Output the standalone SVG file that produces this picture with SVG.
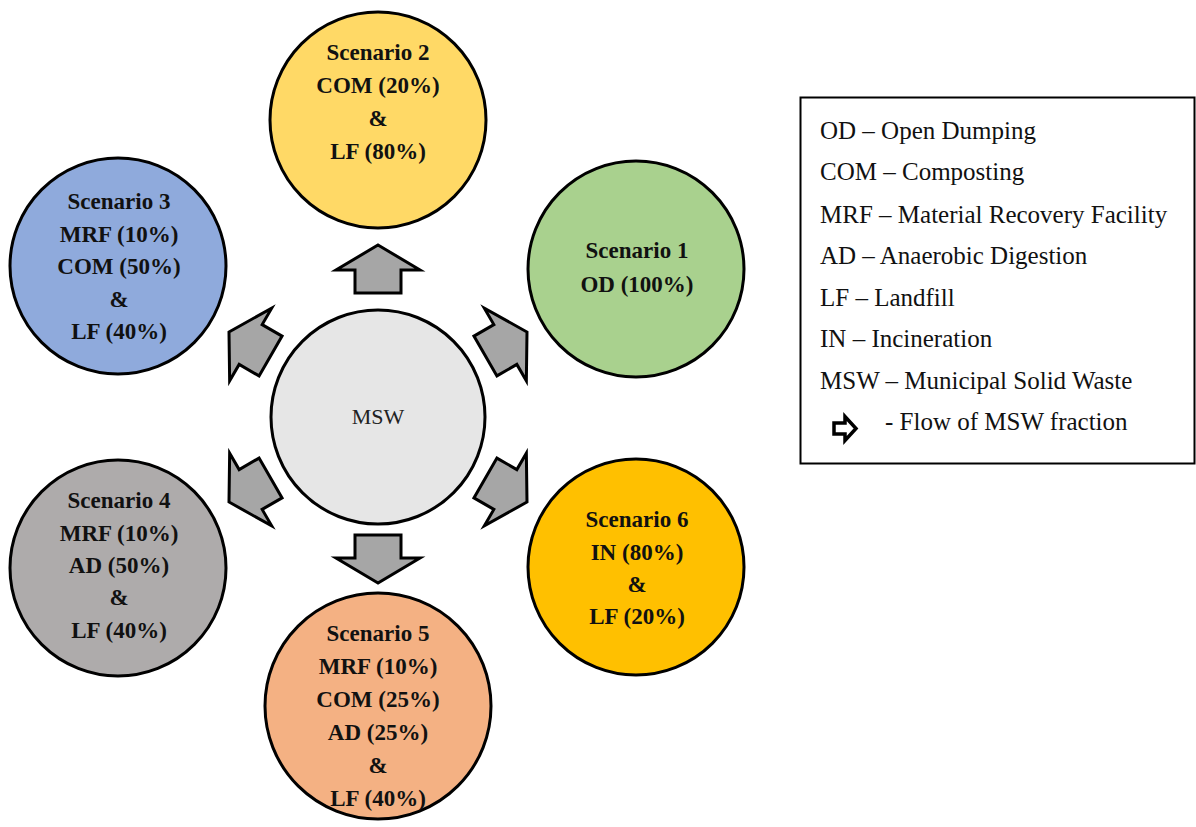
<svg xmlns="http://www.w3.org/2000/svg" width="1196" height="827" viewBox="0 0 1196 827">
<style>
.c{stroke:#000;stroke-width:3}
.t{font-family:"Liberation Serif","Times New Roman",serif;font-weight:bold;font-size:23px;text-anchor:middle;fill:#111}
.m{font-family:"Liberation Serif","Times New Roman",serif;font-size:22px;text-anchor:middle;fill:#222}
.l{font-family:"Liberation Serif","Times New Roman",serif;font-size:25px;fill:#111}
.a{fill:#a6a6a6;stroke:#000;stroke-width:3;stroke-linejoin:miter}
</style>
<defs>
<path id="arr" d="M0,0 L42,25 L23,25 L23,48 L-23,48 L-23,25 L-42,25 Z"/>
</defs>
<rect width="1196" height="827" fill="#fff"/>
<g id="connectors">
<use href="#arr" class="a" transform="translate(378,245)"/>
<use href="#arr" class="a" transform="translate(378,583) rotate(180)"/>
<use href="#arr" class="a" transform="translate(527,332) rotate(60)"/>
<use href="#arr" class="a" transform="translate(527,502) rotate(120)"/>
<use href="#arr" class="a" transform="translate(229,502) rotate(-120)"/>
<use href="#arr" class="a" transform="translate(229,332) rotate(-60)"/>
</g>
<g id="msw">
<circle class="c" cx="378" cy="417" r="107" fill="#e6e6e6"/>
<text class="m" x="378" y="424">MSW</text>
</g>
<g id="scenario2">
<circle class="c" cx="378" cy="120" r="108" fill="#ffd966"/>
<text class="t" x="378" y="60">Scenario 2</text>
<text class="t" x="378" y="93">COM (20%)</text>
<text class="t" x="378" y="126">&amp;</text>
<text class="t" x="378" y="159">LF (80%)</text>
</g>
<g id="scenario1">
<circle class="c" cx="636" cy="269" r="108" fill="#a9d18e"/>
<text class="t" x="637" y="258">Scenario 1</text>
<text class="t" x="637" y="292">OD (100%)</text>
</g>
<g id="scenario3">
<circle class="c" cx="118" cy="266" r="108" fill="#8faadc"/>
<text class="t" x="119" y="209">Scenario 3</text>
<text class="t" x="119" y="242">MRF (10%)</text>
<text class="t" x="119" y="274">COM (50%)</text>
<text class="t" x="119" y="307">&amp;</text>
<text class="t" x="119" y="339">LF (40%)</text>
</g>
<g id="scenario4">
<circle class="c" cx="118" cy="568" r="108" fill="#aeabab"/>
<text class="t" x="119" y="508">Scenario 4</text>
<text class="t" x="119" y="541">MRF (10%)</text>
<text class="t" x="119" y="573">AD (50%)</text>
<text class="t" x="119" y="605">&amp;</text>
<text class="t" x="119" y="638">LF (40%)</text>
</g>
<g id="scenario5">
<circle class="c" cx="378" cy="706" r="113" fill="#f4b183"/>
<text class="t" x="378" y="641">Scenario 5</text>
<text class="t" x="378" y="674">MRF (10%)</text>
<text class="t" x="378" y="707">COM (25%)</text>
<text class="t" x="378" y="740">AD (25%)</text>
<text class="t" x="378" y="773">&amp;</text>
<text class="t" x="378" y="806">LF (40%)</text>
</g>
<g id="scenario6">
<circle class="c" cx="636" cy="567" r="108" fill="#ffc000"/>
<text class="t" x="637" y="527">Scenario 6</text>
<text class="t" x="637" y="560">IN (80%)</text>
<text class="t" x="637" y="592">&amp;</text>
<text class="t" x="637" y="624">LF (20%)</text>
</g>
<g id="legend">
<rect x="800.5" y="97.5" width="394" height="366" fill="#fff" stroke="#000" stroke-width="2"/>
<text class="l" x="820" y="139">OD – Open Dumping</text>
<text class="l" x="820" y="180">COM – Composting</text>
<text class="l" x="820" y="223">MRF – Material Recovery Facility</text>
<text class="l" x="820" y="264">AD – Anaerobic Digestion</text>
<text class="l" x="820" y="306">LF – Landfill</text>
<text class="l" x="820" y="347">IN – Incineration</text>
<text class="l" x="820" y="389">MSW – Municipal Solid Waste</text>
<path d="M834,423 L845,423 L845,416.5 L856,428.5 L845,440.5 L845,434 L834,434 Z" fill="#fff" stroke="#000" stroke-width="3.5" stroke-linejoin="miter"/>
<text class="l" x="885" y="430">- Flow of MSW fraction</text>
</g>
</svg>
